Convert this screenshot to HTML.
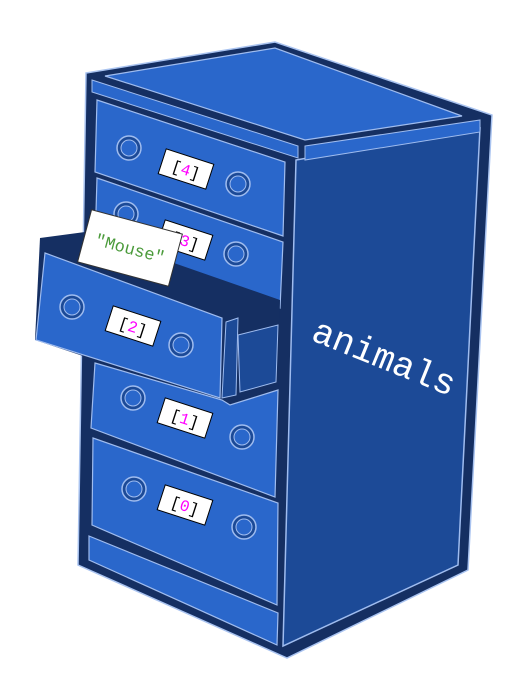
<!DOCTYPE html>
<html><head><meta charset="utf-8"><style>
html,body{margin:0;padding:0;background:#fff;}
svg{display:block;}
text{font-family:"Liberation Mono","DejaVu Sans Mono",monospace;}
</style></head><body>
<svg width="508" height="684" viewBox="0 0 508 684">
<g>
<polygon points="86,73 275,42 492,115 468,570 287,658 78,565" fill="#152f62" stroke="#a9c3f0" stroke-width="1.5"/>
<polygon points="296,160 480,128 458,565 283,646" fill="#1c4a97" stroke="#9fbcef" stroke-width="1.5"/>
<polygon points="105,76 275,48 462,116 305,140" fill="#2a67cb" stroke="#9fbcef" stroke-width="1.2"/>
<polygon points="92,80 298,146 298,158 92,92" fill="#2a67cb" stroke="#9fbcef" stroke-width="1"/>
<polygon points="305,146 480,120 480,132 305,160" fill="#2a67cb" stroke="#9fbcef" stroke-width="1"/>
</g>
<g>
<polygon points="97,100 285,162 283,236 95,172" fill="#2a67cb" stroke="#9fbcef" stroke-width="1.2"/>
<circle cx="129" cy="148" r="12" fill="#1c4a97" stroke="#9fbcef" stroke-width="1.5"/><circle cx="129" cy="148" r="8" fill="#2a67cb" stroke="#9fbcef"/>
<circle cx="238" cy="184" r="12" fill="#1c4a97" stroke="#9fbcef" stroke-width="1.5"/><circle cx="238" cy="184" r="8" fill="#2a67cb" stroke="#9fbcef"/>
<g transform="translate(186,169) rotate(18)"><rect x="-25" y="-13" width="50" height="26" fill="#fff" stroke="#000"/><text x="0" y="6" font-size="16" text-anchor="middle" fill="#000">[<tspan fill="#f0f">4</tspan>]</text></g>
</g>
<g>
<polygon points="97,178 283,242 280,308 95,245" fill="#2a67cb" stroke="#9fbcef" stroke-width="1.2"/>
<circle cx="126" cy="214" r="12" fill="#1c4a97" stroke="#9fbcef" stroke-width="1.5"/><circle cx="126" cy="214" r="8" fill="#2a67cb" stroke="#9fbcef"/>
<circle cx="236" cy="254" r="12" fill="#1c4a97" stroke="#9fbcef" stroke-width="1.5"/><circle cx="236" cy="254" r="8" fill="#2a67cb" stroke="#9fbcef"/>
<g transform="translate(185,240) rotate(18)"><rect x="-25" y="-13" width="50" height="26" fill="#fff" stroke="#000"/><text x="0" y="6" font-size="16" text-anchor="middle" fill="#000">[<tspan fill="#f0f">3</tspan>]</text></g>
</g>
<g>
<polygon points="40,238 85,232 280,300 278,392 230,405 35,340" fill="#152f62"/>
<polygon points="238,335 278,325 276,382 240,392" fill="#1c4a97" stroke="#9fbcef"/>
<polygon points="226,322 238,318 236,395 222,398" fill="#1c4a97" stroke="#9fbcef"/>
<g transform="translate(130,248) rotate(15)"><rect x="-47" y="-27" width="94" height="54" fill="#fff" stroke="#333"/><text x="0" y="6" font-size="17" text-anchor="middle" fill="#4a9a3a">"Mouse"</text></g>
<polygon points="45,253 222,318 220,398 36,340" fill="#2a67cb" stroke="#9fbcef" stroke-width="1.2"/>
<circle cx="72" cy="307" r="12" fill="#1c4a97" stroke="#9fbcef" stroke-width="1.5"/><circle cx="72" cy="307" r="8" fill="#2a67cb" stroke="#9fbcef"/>
<circle cx="181" cy="345" r="12" fill="#1c4a97" stroke="#9fbcef" stroke-width="1.5"/><circle cx="181" cy="345" r="8" fill="#2a67cb" stroke="#9fbcef"/>
<g transform="translate(133,326) rotate(18)"><rect x="-25" y="-13" width="50" height="26" fill="#fff" stroke="#000"/><text x="0" y="6" font-size="16" text-anchor="middle" fill="#000">[<tspan fill="#f0f">2</tspan>]</text></g>
</g>
<g>
<polygon points="95,363 222,400 230,405 278,390 275,497 91,428" fill="#2a67cb" stroke="#9fbcef" stroke-width="1.2"/>
<circle cx="133" cy="398" r="12" fill="#1c4a97" stroke="#9fbcef" stroke-width="1.5"/><circle cx="133" cy="398" r="8" fill="#2a67cb" stroke="#9fbcef"/>
<circle cx="242" cy="437" r="12" fill="#1c4a97" stroke="#9fbcef" stroke-width="1.5"/><circle cx="242" cy="437" r="8" fill="#2a67cb" stroke="#9fbcef"/>
<g transform="translate(185,418) rotate(18)"><rect x="-25" y="-13" width="50" height="26" fill="#fff" stroke="#000"/><text x="0" y="6" font-size="16" text-anchor="middle" fill="#000">[<tspan fill="#f0f">1</tspan>]</text></g>
</g>
<g>
<polygon points="93,438 278,503 277,605 92,525" fill="#2a67cb" stroke="#9fbcef" stroke-width="1.2"/>
<circle cx="134" cy="489" r="12" fill="#1c4a97" stroke="#9fbcef" stroke-width="1.5"/><circle cx="134" cy="489" r="8" fill="#2a67cb" stroke="#9fbcef"/>
<circle cx="244" cy="527" r="12" fill="#1c4a97" stroke="#9fbcef" stroke-width="1.5"/><circle cx="244" cy="527" r="8" fill="#2a67cb" stroke="#9fbcef"/>
<g transform="translate(185,505) rotate(18)"><rect x="-25" y="-13" width="50" height="26" fill="#fff" stroke="#000"/><text x="0" y="6" font-size="16" text-anchor="middle" fill="#000">[<tspan fill="#f0f">0</tspan>]</text></g>
</g>
<polygon points="89,536 278,613 277,645 89,560" fill="#2a67cb" stroke="#9fbcef" stroke-width="1.2"/>
<text transform="translate(380,368) rotate(22)" font-size="36" text-anchor="middle" fill="#fff">animals</text>
</svg>
</body></html>
